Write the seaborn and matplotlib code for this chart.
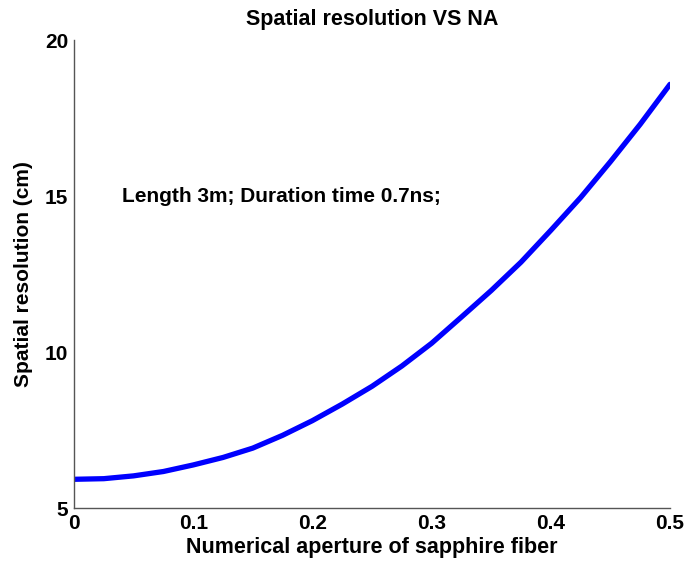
import matplotlib
matplotlib.use("Agg")
import matplotlib.pyplot as plt
import seaborn as sns
import pandas as pd

na_values = [0.0, 0.025, 0.05, 0.075, 0.1, 0.125, 0.15, 0.175, 0.2, 0.225, 0.25,
             0.275, 0.3, 0.325, 0.35, 0.375, 0.4, 0.425, 0.45, 0.475, 0.5]
resolution_cm = [5.92, 5.94, 6.03, 6.17, 6.38, 6.62, 6.92, 7.33, 7.80, 8.33, 8.90,
                 9.55, 10.28, 11.12, 11.97, 12.88, 13.90, 14.95, 16.10, 17.30, 18.58]
x_ticks = [0, 0.1, 0.2, 0.3, 0.4, 0.5]
x_tick_labels = ["0", "0.1", "0.2", "0.3", "0.4", "0.5"]
y_ticks = [5, 10, 15, 20]
y_tick_labels = ["5", "10", "15", "20"]

sns.set_theme(style="white")
plt.rcParams["font.family"] = ["Liberation Sans", "DejaVu Sans"]
plt.rcParams["font.weight"] = "bold"
plt.rcParams["text.color"] = "black"
plt.rcParams["axes.labelcolor"] = "black"

df = pd.DataFrame({"NA": na_values, "res": resolution_cm})

fig = plt.figure(figsize=(6.86, 5.69), dpi=100)
ax = fig.add_axes([0.1079, 0.1072, 0.8688, 0.8225])
sns.lineplot(data=df, x="NA", y="res", ax=ax, color="#0000ff", linewidth=3.8)

ax.set_xlim(0, 0.5)
ax.set_ylim(5, 20)
ax.set_xticks(x_ticks)
ax.set_xticklabels(x_tick_labels, fontsize=15, fontweight="bold", color="black")
ax.set_yticks(y_ticks)
ax.set_yticklabels(y_tick_labels, fontsize=15, fontweight="bold", color="black")
ax.tick_params(direction="in", length=4, width=0.8, colors="black", pad=4)

for s in ["top", "right"]:
    ax.spines[s].set_visible(False)
for s in ["left", "bottom"]:
    ax.spines[s].set_visible(True)
    ax.spines[s].set_color("#555555")
    ax.spines[s].set_linewidth(1.0)

ax.set_xlabel("Numerical aperture of sapphire fiber", fontsize=15.5, fontweight="bold",
              labelpad=3, color="black")
ax.set_ylabel("Spatial resolution (cm)", fontsize=15, fontweight="bold", labelpad=9,
              color="black")
ax.set_title("Spatial resolution VS NA", fontsize=15.5, fontweight="bold", pad=11,
             color="black")
ax.text(0.04, 15, "Length 3m; Duration time 0.7ns;", fontsize=15, fontweight="bold",
        ha="left", va="center", color="black")

fig.savefig("out.png", dpi=100)
